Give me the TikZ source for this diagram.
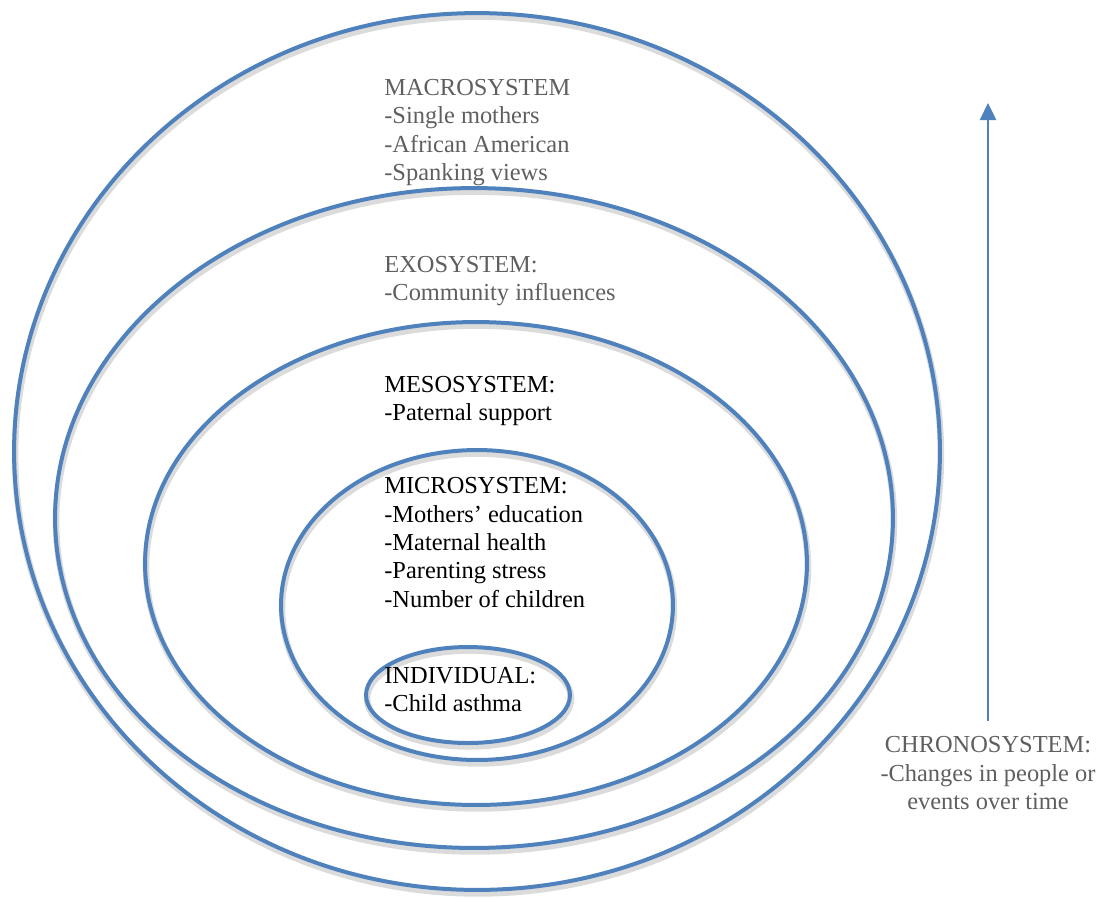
\documentclass[tikz,border=0pt]{standalone}
\usepackage{fontspec}
\setmainfont{Liberation Serif}
\usepackage{tikz}
\usetikzlibrary{shapes.geometric, arrows.meta, calc, positioning}
\definecolor{ringblue}{RGB}{79,129,189}
\definecolor{labelgray}{RGB}{95,95,95}
\tikzstyle{ring} = [ellipse, draw=ringblue, line width=0.08cm, inner sep=0pt, preaction={draw=black!14, line width=0.13cm, transform canvas={shift={(0.02cm,-0.07cm)}}}]
\tikzstyle{systext} = [align=left, anchor=north west, inner sep=0pt, font=\fontsize{13.9}{16.2}\selectfont]
\tikzstyle{arrow} = [draw=ringblue, line width=0.05cm, -{Triangle[width=0.32cm, length=0.34cm]}]

\begin{document}
\begin{tikzpicture}[x=0.02cm, y=-0.02cm]
	\useasboundingbox (0,0) rectangle (1101,897);
	\node (Macro) [ring, minimum width=18.52cm, minimum height=17.54cm] at (477,451.5) {};
	\node (Exo) [ring, minimum width=16.76cm, minimum height=13.2cm] at (474,518) {};
	\node (Meso) [ring, minimum width=13.24cm, minimum height=9.66cm] at (476,563.5) {};
	\node (Micro) [ring, minimum width=7.84cm, minimum height=6.2cm] at (477,605) {};
	\node (Individual) [ring, minimum width=4.08cm, minimum height=1.92cm] at (468,695) {};
	\node (MacroText) [systext, text=labelgray] at (384,79) {MACROSYSTEM\\-Single mothers\\-African American\\-Spanking views};
	\node (ExoText) [systext, text=labelgray] at (384,256) {EXOSYSTEM:\\-Community influences};
	\node (MesoText) [systext] at (384,376) {MESOSYSTEM:\\-Paternal support};
	\node (MicroText) [systext] at (384,477) {MICROSYSTEM:\\-Mothers' education\\-Maternal health\\-Parenting stress\\-Number of children};
	\node (IndividualText) [systext] at (384,667) {INDIVIDUAL:\\-Child asthma};
	\node (Chrono) [systext, align=center, anchor=north, text=labelgray] at (988,736) {CHRONOSYSTEM:\\-Changes in people or\\events over time};
	\coordinate (ChronoTop) at (988,103);
	\draw [arrow, shorten <=0.3cm] (Chrono.north) -- (ChronoTop);
\end{tikzpicture}
\end{document}
